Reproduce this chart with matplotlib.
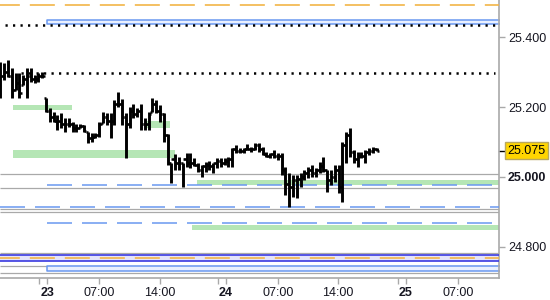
import numpy as np
import matplotlib
matplotlib.use("Agg")
import matplotlib.pyplot as plt
import matplotlib.transforms as mtransforms

plt.rcParams['font.family'] = ['Liberation Sans', 'DejaVu Sans']
plt.rcParams['lines.scale_dashes'] = False

# 30-minute OHLC bars (prices)
highs = [25.329, 25.326, 25.334, 25.311, 25.297, 25.297, 25.291, 25.311, 25.311, 25.291,
         25.297, 25.300, 25.226, 25.197, 25.186, 25.177, 25.183, 25.169, 25.169, 25.157,
         25.151, 25.151, 25.149, 25.129, 25.126, 25.126, 25.157, 25.186, 25.183, 25.183,
         25.220, 25.243, 25.223, 25.183, 25.200, 25.209, 25.197, 25.209, 25.169, 25.186,
         25.226, 25.220, 25.206, 25.183, 25.123, 25.040, 25.066, 25.057, 25.040, 25.069,
         25.069, 25.054, 25.040, 25.034, 25.043, 25.046, 25.040, 25.054, 25.054, 25.054,
         25.057, 25.083, 25.091, 25.083, 25.083, 25.094, 25.086, 25.097, 25.097, 25.086,
         25.071, 25.069, 25.077, 25.069, 25.069, 25.029, 25.011, 25.006, 25.006, 25.011,
         25.020, 25.029, 25.034, 25.026, 25.043, 25.057, 25.020, 25.020, 25.034, 25.034,
         25.100, 25.129, 25.140, 25.077, 25.071, 25.071, 25.077, 25.083, 25.086, 25.083]
lows = [25.226, 25.277, 25.286, 25.226, 25.249, 25.226, 25.263, 25.226, 25.271, 25.269,
        25.271, 25.283, 25.186, 25.157, 25.157, 25.134, 25.140, 25.129, 25.143, 25.129,
        25.129, 25.140, 25.129, 25.097, 25.100, 25.111, 25.114, 25.154, 25.149, 25.111,
        25.149, 25.200, 25.149, 25.054, 25.140, 25.169, 25.171, 25.134, 25.134, 25.134,
        25.186, 25.183, 25.157, 25.100, 25.034, 24.983, 25.020, 25.020, 24.971, 25.029,
        25.026, 25.031, 25.014, 25.000, 25.014, 25.020, 25.011, 25.026, 25.029, 25.034,
        25.029, 25.029, 25.069, 25.069, 25.069, 25.077, 25.071, 25.077, 25.071, 25.063,
        25.057, 25.054, 25.054, 25.049, 25.006, 24.949, 24.914, 24.943, 24.940, 24.971,
        24.991, 24.997, 25.000, 25.000, 25.011, 25.014, 24.957, 24.977, 24.986, 24.954,
        24.929, 25.040, 25.057, 25.040, 25.029, 25.054, 25.040, 25.063, 25.069, 25.075]
closes = [25.290, 25.300, 25.290, 25.250, 25.270, 25.240, 25.280, 25.290, 25.280, 25.280,
          25.290, 25.290, 25.190, 25.170, 25.160, 25.160, 25.150, 25.150, 25.150, 25.140,
          25.140, 25.145, 25.130, 25.110, 25.115, 25.120, 25.150, 25.170, 25.160, 25.160,
          25.210, 25.210, 25.170, 25.150, 25.190, 25.180, 25.190, 25.150, 25.150, 25.180,
          25.210, 25.190, 25.180, 25.120, 25.040, 25.050, 25.040, 25.040, 25.050, 25.040,
          25.040, 25.035, 25.020, 25.030, 25.035, 25.030, 25.040, 25.045, 25.040, 25.045,
          25.050, 25.080, 25.075, 25.075, 25.080, 25.080, 25.080, 25.090, 25.080, 25.065,
          25.060, 25.065, 25.060, 25.060, 25.020, 24.980, 24.970, 24.990, 24.995, 25.000,
          25.010, 25.020, 25.010, 25.020, 25.030, 25.020, 24.990, 25.000, 25.020, 24.970,
          25.090, 25.120, 25.070, 25.050, 25.060, 25.060, 25.070, 25.075, 25.080, 25.075]
first_open = 25.300

# x axis (bar index units)
x_end = 131.2
tick_pos = [12.34, 26.0, 41.87, 59.34, 73.03, 88.8, 106.7, 120.4]
tick_labels = ["23", "07:00", "14:00", "24", "07:00", "14:00", "25", "07:00"]
day_labels = ["23", "24", "25"]
minor_pos = [10.13, 57.24, 104.5]
y_ticks = [24.8, 25.0, 25.2, 25.4]

# horizontal levels: (price, x start)
gray_levels = [(25.008, 0), (24.968, 0), (24.907, 0), (24.900, 0), (24.783, 0),
               (24.746, 0), (24.725, 0)]
blue_dash_levels = [(24.977, 12.24), (24.913, 0), (24.869, 12.24)]
dotted_levels = [(25.435, 1.18, x_end), (25.296, 5.4, 130.1)]
orange_levels = [25.491, 24.767]
# green zones: (price, x start, x end, thickness)
green_zones = [(25.199, 3.29, 18.8, 0.015), (25.150, 38.0, 44.6, 0.018),
               (25.066, 3.29, 45.9, 0.021), (24.984, 51.7, x_end, 0.015),
               (24.856, 50.4, x_end, 0.015)]
# blue boxes: (low, high, x start)
blue_boxes = [(25.436, 25.448, 12.24), (24.731, 24.745, 12.24)]
band_low, band_high = 24.760, 24.778
last_price = closes[-1]

fig = plt.figure(figsize=(5.5, 3.0), dpi=100)
ax = fig.add_axes([0, 22 / 300, 499 / 550, 278 / 300])
ax.set_xlim(-0.13, x_end)
ax.set_ylim(24.711, 25.506)

gray = "#a9a9a9"
blue = "#6a98f0"

for y, x0 in gray_levels:
    ax.hlines(y, x0, x_end, color=gray, lw=0.9, zorder=2)

for y, x0, x1, h in green_zones:
    ax.fill_between([x0, x1], y - h / 2, y + h / 2, color="#b5e6b5", lw=0, zorder=1)

for y, x0 in blue_dash_levels:
    ax.hlines(y, x0, x_end, color=blue, lw=1.1, linestyles=[(0, (18, 7.2))], zorder=3)

for y0, y1, x0 in blue_boxes:
    ax.fill_between([x0, x_end + 5], y0, y1, facecolor="#e9f0ff", edgecolor=blue,
                    lw=1.1, zorder=2)

ax.fill_between([-1, x_end + 1], band_low, band_high, facecolor="#e4e4fb",
                edgecolor="none", zorder=1)
ax.hlines([band_low, band_high], -1, x_end + 1, color="#3a3ae0", lw=1.2, zorder=3)

for y in orange_levels:
    ax.hlines(y, -1, x_end + 1, color="#f2b548", lw=1.2,
              linestyles=[(3, (18, 7.2))], zorder=3)

for y, x0, x1 in dotted_levels:
    ax.hlines(y, x0, x1, color="black", lw=1.8, linestyles=[(0, (1.6, 3.8))], zorder=4)

# OHLC bars
idx = np.arange(len(closes))
opens = [first_open] + closes[:-1]
opens = np.clip(opens, lows, highs)
ax.vlines(idx, lows, highs, color="black", lw=2.1, zorder=5)
ax.hlines(opens, idx - 0.6, idx, color="black", lw=1.8, zorder=5)
ax.hlines(closes, idx, idx + 0.6, color="black", lw=1.8, zorder=5)

# axes styling
for s in ["left", "top"]:
    ax.spines[s].set_visible(False)
for s in ["right", "bottom"]:
    ax.spines[s].set_color(gray)
    ax.spines[s].set_linewidth(1.2)

ax.yaxis.tick_right()
ax.set_yticks(y_ticks)
ax.set_yticklabels(["%.3f" % v for v in y_ticks])
ax.set_xticks(tick_pos)
ax.set_xticklabels(tick_labels)
ax.set_xticks(minor_pos, minor=True)
ax.tick_params(axis="both", which="both", length=4, width=1, color=gray,
               labelsize=9, labelcolor="#151520", pad=2.5)
for lab in ax.get_xticklabels():
    if lab.get_text() in day_labels:
        lab.set_fontweight("bold")
for lab in ax.get_yticklabels():
    if lab.get_text() == "25.000":
        lab.set_fontweight("bold")

# last price marker
trans = mtransforms.blended_transform_factory(ax.transAxes, ax.transData)
ax.plot([1.0, 1.012], [last_price, last_price], color="black", lw=1,
        transform=trans, clip_on=False)
ax.text(1.017, last_price, "%.3f" % last_price, transform=trans, ha="left", va="center",
        fontsize=9, color="black",
        bbox=dict(boxstyle="square,pad=0.22", facecolor="#ffd500", edgecolor="#b8a860",
                  lw=1))

fig.savefig("out.png", dpi=100)
